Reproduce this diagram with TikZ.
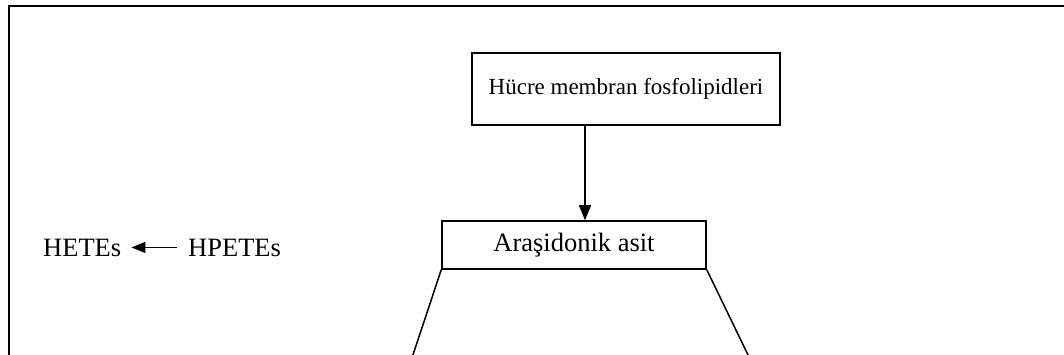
\documentclass[tikz,border=0pt]{standalone}
\usepackage{fontspec}
\setmainfont{Liberation Serif}
\usetikzlibrary{arrows.meta}
\begin{document}
\begin{tikzpicture}[x=1pt,y=-1pt,
  box/.style={draw,line width=1.5pt,inner sep=0pt,font=\fontsize{26.5}{30}\selectfont},
  lbl/.style={inner sep=0pt,font=\fontsize{26.5}{30}\selectfont},
  line/.style={line width=1.5pt},
  arr/.style={-{Triangle[width=12pt,length=15pt]},line width=1.5pt},
  sarr/.style={-{Triangle[width=11pt,length=14pt]},line width=1.5pt}]
\useasboundingbox (0,0) rectangle (1064,355);
\begin{scope}
\clip (0,0) rectangle (1064,355);
\coordinate (fbl) at (9,365);
\coordinate (ftl) at (9,6);
\coordinate (ftr) at (1070,6);
\draw[line width=2.2pt] (fbl) -- (ftl) -- (ftr);
\node[box,minimum width=308pt,minimum height=72pt,font=\fontsize{23}{26}\selectfont] (memb) at (626,89) {\raisebox{6pt}{Hücre membran fosfolipidleri}};
\node[box,minimum width=264pt,minimum height=48pt] (ara) at (574,245) {Araşidonik asit};
\coordinate (ax) at (585,0);
\draw[arr] (memb.south -| ax) -- (ara.north -| ax);
\coordinate (legl) at (407.3,372);
\coordinate (legr) at (756.3,372);
\draw[line] (ara.south west) -- (legl);
\draw[line] (ara.south east) -- (legr);
\node[lbl,anchor=base west] (hete) at (43,256) {HETEs};
\node[lbl,anchor=base west] (hpete) at (188,256) {HPETEs};
\draw[sarr] ([xshift=-11pt]hpete.west) -- ([xshift=10pt]hete.east);
\end{scope}
\end{tikzpicture}
\end{document}
